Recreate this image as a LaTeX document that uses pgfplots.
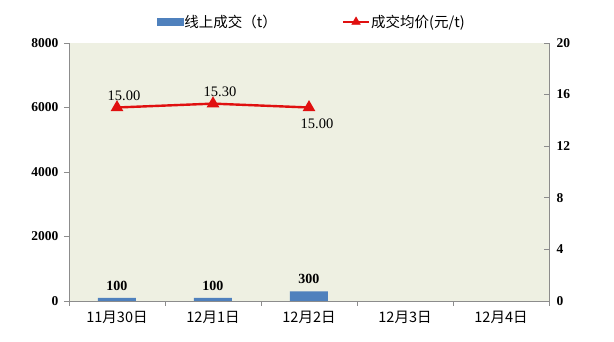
\documentclass[border=0pt]{standalone}
\usepackage{pgfplots}
\usepackage{pgfplotstable}
\pgfplotsset{compat=1.18}
\usepackage{fontspec}
\setmainfont{Liberation Serif}
\newfontfamily\cjk{Noto Sans CJK SC}

\definecolor{barblue}{HTML}{4F81BD}
\definecolor{linered}{HTML}{E01010}
\definecolor{plotbg}{HTML}{EEF0E2}
\definecolor{axisgray}{HTML}{8C8C8C}

% daily online volume (t)
\pgfplotstableread{
x vol
0 100
1 100
2 300
}\volume

% average deal price (yuan/t)
\pgfplotstableread{
x price
0 15.00
1 15.30
2 15.00
}\price

% price labels set above / below their points
\pgfplotstableread{
x price
0 15.00
1 15.30
}\priceabove
\pgfplotstableread{
x price
2 15.00
}\pricebelow

\begin{document}
\begin{tikzpicture}
\useasboundingbox (-69pt,-41pt) rectangle (545pt,301pt);
\begin{axis}[
  at={(0,0)}, anchor=south west,
  scale only axis, width=480pt, height=258pt,
  xmin=-0.5, xmax=4.5, ymin=0, ymax=8000,
  axis background/.style={fill=plotbg},
  axis x line*=bottom, axis y line*=left,
  axis line style={axisgray, line width=0.8pt, -},
  xtick={-0.5,0.5,...,4.5}, x tick label as interval,
  xticklabels={11月30日,12月1日,12月2日,12月3日,12月4日},
  x tick label style={font=\cjk\fontsize{14.5}{14.5}\selectfont, yshift=-2pt},
  ytick={0,2000,...,8000},
  y tick label style={font=\fontsize{13.5}{13.5}\selectfont\bfseries, xshift=-2pt},
  /pgf/number format/assume math mode=true,
  /pgf/number format/1000 sep={},
  tick align=outside, major tick length=5pt,
  tick style={axisgray, line width=0.8pt},
  clip=false,
]
\addplot[ybar, bar width=38pt, fill=barblue, draw=none,
  nodes near coords,
  nodes near coords style={font=\fontsize{14}{14}\selectfont\bfseries, text=black, yshift=4pt},
] table[x=x, y=vol] {\volume};
\end{axis}

\begin{axis}[
  at={(0,0)}, anchor=south west,
  scale only axis, width=480pt, height=258pt,
  xmin=-0.5, xmax=4.5, ymin=0, ymax=20,
  axis x line=none, axis y line*=right,
  axis line style={axisgray, line width=0.8pt, -},
  ytick={0,4,...,20},
  y tick label style={font=\fontsize{13.5}{13.5}\selectfont\bfseries, xshift=4pt},
  /pgf/number format/assume math mode=true,
  tick align=inside, major tick length=5pt,
  tick style={axisgray, line width=0.8pt},
  clip=false,
  legend style={at={(0.505,1)}, anchor=south, yshift=10pt, draw=none, fill=none,
    font=\cjk\fontsize{14.5}{14.5}\selectfont, legend columns=2,
    /tikz/every even column/.append style={column sep=64pt},
    nodes={inner xsep=1pt}},
  legend cell align=left,
]
\addlegendimage{legend image code/.code={\fill[barblue] (0pt,-3.5pt) rectangle (26pt,3.5pt);}}
\addlegendentry{线上成交（t）}
\addlegendimage{legend image code/.code={
    \draw[linered, line width=2.4pt] (0pt,0pt) -- (26pt,0pt);
    \fill[linered] (13pt,0pt) ++(90:5pt) -- ++(-120:8.66pt) -- ++(0:8.66pt) -- cycle;}}
\addlegendentry{成交均价(元/t)}
\addplot[linered, line width=2.4pt, mark=triangle*, mark size=5pt,
  mark options={solid, fill=linered}, forget plot] table[x=x, y=price] {\price};
\addplot[draw=none, mark=none, forget plot,
  nodes near coords={\pgfmathprintnumber[fixed, fixed zerofill, precision=2]{\pgfplotspointmeta}},
  point meta=y,
  nodes near coords style={font=\fontsize{14.5}{14.5}\selectfont, text=black,
    anchor=south, inner sep=0pt, yshift=7pt, xshift=7pt},
] table[x=x, y=price] {\priceabove};
\addplot[draw=none, mark=none, forget plot,
  nodes near coords={\pgfmathprintnumber[fixed, fixed zerofill, precision=2]{\pgfplotspointmeta}},
  point meta=y,
  nodes near coords style={font=\fontsize{14.5}{14.5}\selectfont, text=black,
    anchor=north, inner sep=0pt, yshift=-11pt, xshift=8pt},
] table[x=x, y=price] {\pricebelow};
\end{axis}
\end{tikzpicture}
\end{document}
